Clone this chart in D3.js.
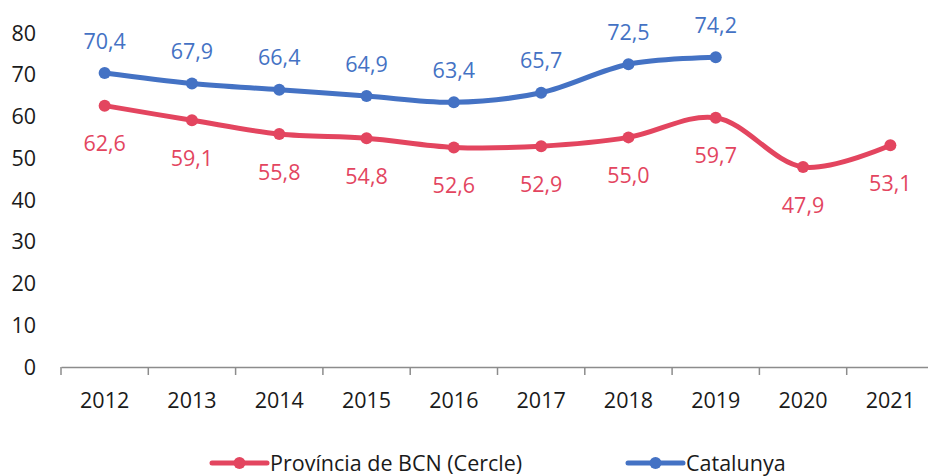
<!DOCTYPE html>
<html>
<head>
<meta charset="utf-8">
<script src="https://cdn.jsdelivr.net/npm/d3@7"></script>
<style>
  body { margin: 0; background: #fff; }
  text { font-family: "Open Sans", "Noto Sans", sans-serif; }
</style>
</head>
<body>
<div class="canva"></div>
<script>
const years = ['2012', '2013', '2014', '2015', '2016', '2017', '2018', '2019', '2020', '2021'];
const provincia = [62.6, 59.1, 55.8, 54.8, 52.6, 52.9, 55.0, 59.7, 47.9, 53.1];
const catalunya = [70.4, 67.9, 66.4, 64.9, 63.4, 65.7, 72.5, 74.2, null, null];
const yTicks = [0, 10, 20, 30, 40, 50, 60, 70, 80];
const seriesNames = ['Província de BCN (Cercle)', 'Catalunya'];

const width = 928, height = 476;
const red = '#e3455f', blue = '#4472c4';
const fs = 21.5;

const svg = d3.select('.canva').append('svg')
  .attr('width', width)
  .attr('height', height)

const x = d3.scaleBand().domain(years).range([61, 934]);
const y = d3.scaleLinear().domain([0, 80]).range([367, 33]);

// y axis labels (no line)
svg.append('g').selectAll('text')
  .data(yTicks)
  .enter().append('text')
  .attr('x', 36)
  .attr('y', d => y(d))
  .attr('dy', '0.35em')
  .attr('text-anchor', 'end')
  .attr('font-size', fs)
  .attr('fill', '#1a1a1a')
  .text(d => d);

// x axis
const xAxis = svg.append('g')
  .attr('transform', 'translate(0,' + y(0) + ')')
  .call(d3.axisBottom(x).tickSize(0).tickPadding(26));
xAxis.select('.domain').attr('stroke', '#8c8c8c').attr('stroke-width', 1.5);
xAxis.selectAll('text').attr('font-size', fs).attr('fill', '#1a1a1a')
  .attr('font-family', '"Open Sans", sans-serif');

// tick marks at band boundaries
svg.append('g').selectAll('line')
  .data(years)
  .enter().append('line')
  .attr('x1', d => x(d)).attr('x2', d => x(d))
  .attr('y1', y(0)).attr('y2', y(0) + 8)
  .attr('stroke', '#8c8c8c')
  .attr('stroke-width', 1.5);

const line = d3.line()
  .defined(d => d.v != null)
  .x(d => x(d.year) + x.bandwidth() / 2)
  .y(d => y(d.v))
  .curve(d3.curveCatmullRom.alpha(0.5));

function drawSeries(values, color, labelDy) {
  const pts = years.map((yr, i) => ({ year: yr, v: values[i] })).filter(d => d.v != null);
  svg.append('path')
    .datum(pts)
    .attr('d', line)
    .attr('fill', 'none')
    .attr('stroke', color)
    .attr('stroke-width', 5)
    .attr('stroke-linecap', 'round');
  svg.append('g').selectAll('circle')
    .data(pts)
    .enter().append('circle')
    .attr('cx', d => x(d.year) + x.bandwidth() / 2)
    .attr('cy', d => y(d.v))
    .attr('r', 6)
    .attr('fill', color);
  svg.append('g').selectAll('text')
    .data(pts)
    .enter().append('text')
    .attr('x', d => x(d.year) + x.bandwidth() / 2)
    .attr('y', d => y(d.v) + labelDy)
    .attr('dy', '0.35em')
    .attr('text-anchor', 'middle')
    .attr('font-size', fs)
    .attr('fill', color)
    .text(d => d.v.toFixed(1).replace('.', ','));
}

drawSeries(provincia, red, 38);
drawSeries(catalunya, blue, -32);

// legend
const legend = [
  { name: seriesNames[0], color: red, x: 212 },
  { name: seriesNames[1], color: blue, x: 628 }
];
const lg = svg.append('g').selectAll('g')
  .data(legend)
  .enter().append('g')
  .attr('transform', d => 'translate(' + d.x + ',463)');
lg.append('line')
  .attr('x1', 0).attr('x2', 55)
  .attr('stroke', d => d.color)
  .attr('stroke-width', 5)
  .attr('stroke-linecap', 'round');
lg.append('circle')
  .attr('cx', 27.5).attr('r', 6)
  .attr('fill', d => d.color);
lg.append('text')
  .attr('x', 58)
  .attr('dy', '0.35em')
  .attr('font-size', fs)
  .attr('fill', '#1a1a1a')
  .text(d => d.name);
</script>
</body>
</html>
